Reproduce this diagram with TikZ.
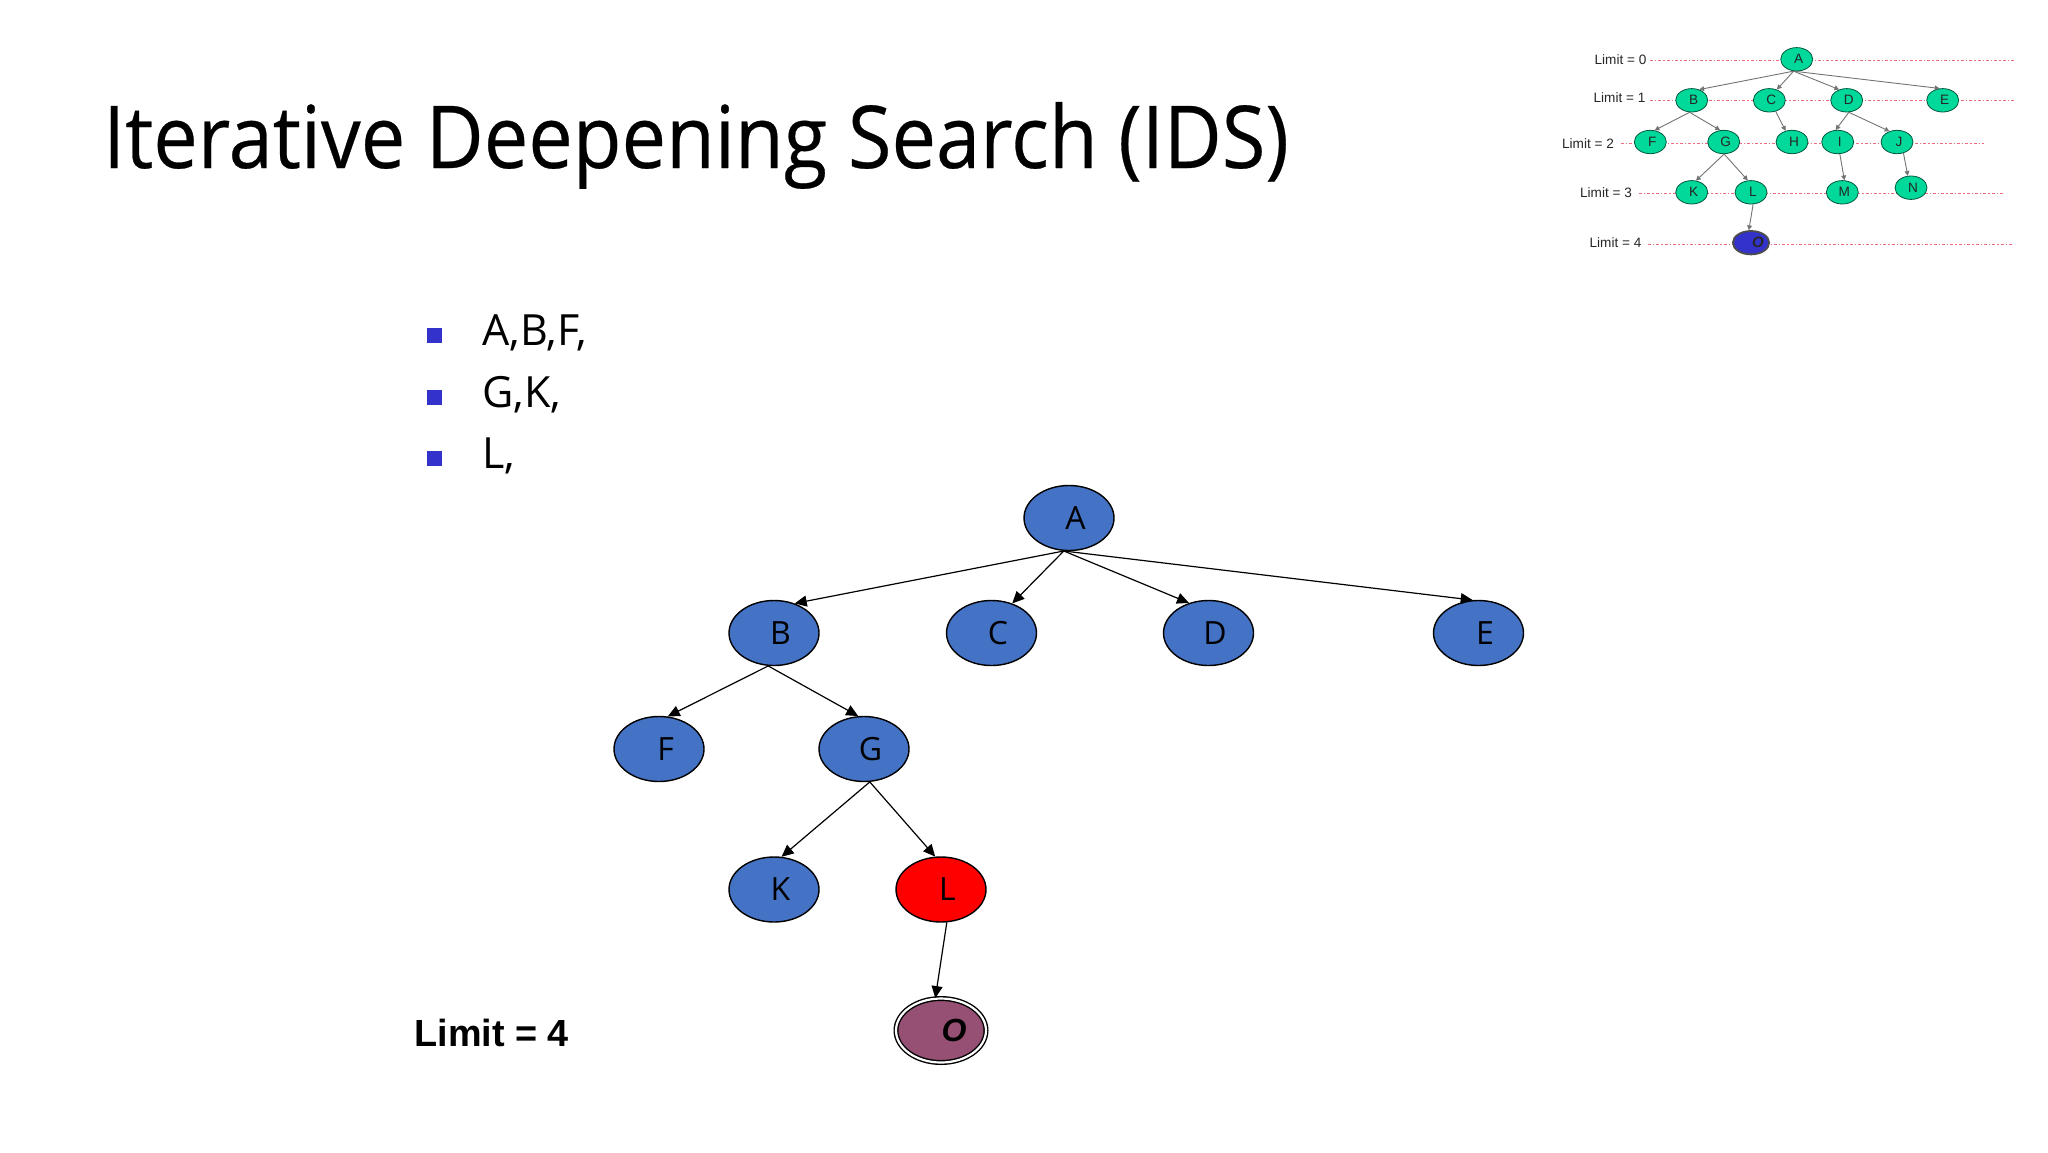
\documentclass[tikz,border=0pt]{standalone}
\usepackage{fontspec}
\setmainfont{Open Sans}
\newfontfamily\arialfont{Liberation Sans}
\newfontfamily\titlefont[FakeStretch=0.915,FakeBold=0.3]{Open Sans}
\usepackage{tikz}
\usetikzlibrary{arrows.meta}
\usetikzlibrary{shapes.geometric}
\definecolor{nodeblue}{HTML}{4472C4}
\definecolor{goalplum}{HTML}{955073}
\definecolor{thumbgreen}{HTML}{00D99A}
\definecolor{bulletblue}{HTML}{3333CC}
\definecolor{limitred}{HTML}{EE6A80}
\tikzset{
  treenode/.style={
    ellipse,
    draw=black, line width=0.7pt,
    fill=nodeblue,
    minimum width=45pt,
    minimum height=32.5pt,
    inner sep=0pt,
    font=\fontsize{16}{16}\selectfont,
    execute at begin node=\hspace{6.5pt},
  },
  goalnode/.style={
    treenode,
    fill=goalplum,
    line width=0.7pt,
    double=white,
    double distance=1.1pt,
    minimum width=45pt,
    minimum height=32pt,
    font=\arialfont\bfseries\itshape\fontsize{16}{16}\selectfont,
    execute at begin node=\hspace{6.5pt},
  },
  thumbnode/.style={
    ellipse,
    draw=black!60!thumbgreen, line width=0.4pt,
    fill=thumbgreen,
    minimum width=16pt,
    minimum height=11.7pt,
    inner sep=0pt,
    text=black!85,
    font=\arialfont\fontsize{6.8}{6.8}\selectfont,
    execute at begin node=\hspace{2pt},
  },
  thumbgoal/.style={
    thumbnode,
    fill=bulletblue,
    draw=black!70, line width=0.9pt,
    font=\arialfont\bfseries\itshape\fontsize{7.5}{7.5}\selectfont,
    execute at begin node=\hspace{5pt},
  },
  thumblabel/.style={anchor=base east, inner sep=0pt, text=black!85,
    font=\arialfont\fontsize{6.8}{6.8}\selectfont},
  limitline/.style={-, draw=limitred, line width=0.5pt,
    dash pattern=on 1.5pt off 1pt on 0.7pt off 1pt},
  thumbedge/.style={draw=black!55, line width=0.45pt,
    >={Stealth[length=2.4pt,width=2.4pt,inset=0pt]}},
  bulletbox/.style={rectangle, fill=bulletblue, minimum size=7.5pt, inner sep=0pt},
  bullettext/.style={anchor=base west, inner sep=0pt,
    font=\fontsize{21.5}{21.5}\selectfont},
}
\begin{document}
\begin{tikzpicture}[x=0.5pt,y=-0.5pt,->,>={Stealth[length=6pt,width=5.5pt,inset=0pt]},line width=0.6pt]
  \useasboundingbox (0,0) rectangle (2048,1152);

  % limit lines of the small copy, under its nodes
  \foreach \n/\xa/\xb/\yy in {0/1650/2014/60,1/1650/2014/100,2/1621/1984/143.3,3/1639/2003/193,4/1648/2012/244.3}{
    \coordinate (ls\n) at (\xa,\yy);
    \coordinate (le\n) at (\xb,\yy);
    \draw[limitline] (ls\n) -- (le\n);
  }

  \node[anchor=base west, inner sep=0pt, font=\titlefont\fontsize{43.4}{43.4}\selectfont] (title)
    at (102.5,168) {Iterative Deepening Search (IDS)};

  \node[bulletbox] (b1) at (434,335) {};
  \node[bulletbox] (b2) at (434,397) {};
  \node[bulletbox] (b3) at (434,458) {};
  \node[bullettext] (t1) at (482,345.5) {A,B,F,};
  \node[bullettext] (t2) at (482,407) {G,K,};
  \node[bullettext] (t3) at (482,468) {L,};

  \node[treenode] (A) at (1069,518) {A};
  \node[treenode] (B) at (774,633) {B};
  \node[treenode] (C) at (991.5,633) {C};
  \node[treenode] (D) at (1208.5,633) {D};
  \node[treenode] (E) at (1478.5,633) {E};
  \node[treenode] (F) at (659,749) {F};
  \node[treenode] (G) at (864,749) {G};
  \node[treenode] (K) at (774,889.5) {K};
  \node[treenode, fill=red] (L) at (941,889.5) {L};
  \node[goalnode] (O) at (941,1030.5) {O};
  \node[anchor=base west, inner sep=0pt, font=\arialfont\bfseries\fontsize{18.9}{18.9}\selectfont] (limit)
    at (414,1046) {Limit = 4};

  \path (A.261) edge (B.55);
  \path (A.261) edge (C.55);
  \path (A.261) edge (D.123);
  \path (A.261) edge (E.100);
  \path (B.260) edge (F.75);
  \path (B.260) edge (G.100);
  \path (G.280) edge (K.77);
  \path (G.280) edge (L.100);
  \path (L.280) edge (O.100);

  % small copy of the tree
  \node[thumblabel] (l0) at (1647,64) {Limit = 0};
  \node[thumblabel] (l1) at (1646,102) {Limit = 1};
  \node[thumblabel] (l2) at (1614.5,148.3) {Limit = 2};
  \node[thumblabel] (l3) at (1632.5,197.3) {Limit = 3};
  \node[thumblabel] (l4) at (1642,247.7) {Limit = 4};

  \node[thumbnode] (a) at (1796.7,59.3) {A};
  \node[thumbnode] (b) at (1691.7,100.3) {B};
  \node[thumbnode] (c) at (1769.3,100.3) {C};
  \node[thumbnode] (d) at (1846.7,100.3) {D};
  \node[thumbnode] (e) at (1942.7,100.3) {E};
  \node[thumbnode] (f) at (1650.3,142) {F};
  \node[thumbnode] (g) at (1723.7,142) {G};
  \node[thumbnode] (h) at (1792,142) {H};
  \node[thumbnode] (i) at (1837.7,142) {I};
  \node[thumbnode] (j) at (1897,142) {J};
  \node[thumbnode] (k) at (1691.7,192.3) {K};
  \node[thumbnode] (l) at (1751,192.3) {L};
  \node[thumbnode] (m) at (1842.3,192.3) {M};
  \node[thumbnode] (n) at (1911,187.7) {N};
  \node[thumbgoal] (o) at (1751,242.7) {O};

  \path (a.255) edge[thumbedge] (b.55);
  \path (a.255) edge[thumbedge] (c.55);
  \path (a.255) edge[thumbedge] (d.125);
  \path (a.255) edge[thumbedge] (e.105);
  \path (b.260) edge[thumbedge] (f.70);
  \path (b.260) edge[thumbedge] (g.107);
  \path (c.300) edge[thumbedge] (h.120);
  \path (d.280) edge[thumbedge] (i.100);
  \path (d.280) edge[thumbedge] (j.125);
  \path (g.272) edge[thumbedge] (k.70);
  \path (g.272) edge[thumbedge] (l.105);
  \path (i.280) edge[thumbedge] (m.80);
  \path (j.300) edge[thumbedge] (n.105);
  \path (l.280) edge[thumbedge] (o.100);
\end{tikzpicture}
\end{document}
